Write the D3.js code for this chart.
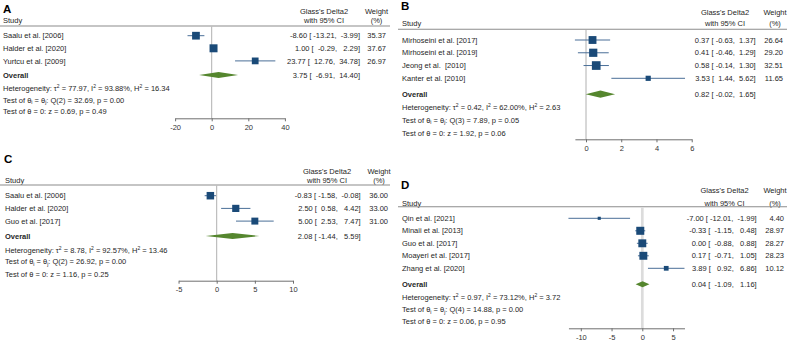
<!DOCTYPE html>
<html><head><meta charset="utf-8">
<script src="https://cdn.jsdelivr.net/npm/d3@7"></script>
<style>
html,body{margin:0;padding:0;background:#fff;}
svg{display:block;}
</style>
</head><body>
<svg id="chart" width="793" height="343"></svg>
<script>
// ---------------- DATA ----------------
const studiesA = ["Saalu et al. [2006]", "Halder et al. [2020]", "Yurtcu et al. [2009]"];
const estA  = [-8.60, 1.00, 23.77];
const lowA  = [-13.21, -0.29, 12.76];
const highA = [-3.99, 2.29, 34.78];
const weightA = [35.37, 37.67, 26.97];
const overallA = [3.75, -6.91, 14.40];          // estimate, low, high
const statsA = {tau2:"77.97", i2:"93.88", h2:"16.34", df:2, q:"32.69", pq:"0.00", z:"0.69", pz:"0.49"};
const ticksA = [-20, 0, 20, 40];

const studiesB = ["Mirhoseini et al. [2017]", "Mirhoseini et al. [2019]", "Jeong et al.  [2010]", "Kanter et al. [2010]"];
const estB  = [0.37, 0.41, 0.58, 3.53];
const lowB  = [-0.63, -0.46, -0.14, 1.44];
const highB = [1.37, 1.29, 1.30, 5.62];
const weightB = [26.64, 29.20, 32.51, 11.65];
const overallB = [0.82, -0.02, 1.65];
const statsB = {tau2:"0.42", i2:"62.00", h2:"2.63", df:3, q:"7.89", pq:"0.05", z:"1.92", pz:"0.06"};
const ticksB = [0, 2, 4, 6];

const studiesC = ["Saalu et al. [2006]", "Halder et al. [2020]", "Guo et al. [2017]"];
const estC  = [-0.83, 2.50, 5.00];
const lowC  = [-1.58, 0.58, 2.53];
const highC = [-0.08, 4.42, 7.47];
const weightC = [36.00, 33.00, 31.00];
const overallC = [2.08, -1.44, 5.59];
const statsC = {tau2:"8.78", i2:"92.57", h2:"13.46", df:2, q:"26.92", pq:"0.00", z:"1.16", pz:"0.25"};
const ticksC = [-5, 0, 5, 10];

const studiesD = ["Qin et al. [2021]", "Minaii et al. [2013]", "Guo et al. [2017]", "Moayeri et al. [2017]", "Zhang et al. [2020]"];
const estD  = [-7.00, -0.33, 0.00, 0.17, 3.89];
const lowD  = [-12.01, -1.15, -0.88, -0.71, 0.92];
const highD = [-1.99, 0.48, 0.88, 1.05, 6.86];
const weightD = [4.40, 28.97, 28.27, 28.23, 10.12];
const overallD = [0.04, -1.09, 1.16];
const statsD = {tau2:"0.97", i2:"73.12", h2:"3.72", df:4, q:"14.88", pq:"0.00", z:"0.06", pz:"0.95"};
const ticksD = [-10, -5, 0, 5];

const panelLabels = ["A", "B", "C", "D"];
const headerCI = ["Glass's Delta2", "with 95% CI"];
const headerW = ["Weight", "(%)"];

// ---------------- LAYOUT ----------------
const layout = [
  {lx:3, ly:9, tx:3, h1:11, h2:20.7, rule:26, rx0:0, rx1:390, r0:35.7, rs:12.6, ov:75, het:88.3, t1:100, t2:111.7,
   ax:118.3, zero:211.7, ppu:1.83, ciR:360, wR:386, hCI:324, hW:376.5, k:1.3, dh:3.1, refW:1, refC:"#b0b0b0"},
  {lx:401, ly:5.5, tx:402, h1:12.7, h2:23.3, rule:29.3, rx0:398, rx1:787, r0:40, rs:12.77, ov:94.2, het:107.7, t1:120, t2:133.3,
   ax:139.3, zero:586, ppu:17.62, ciR:755.7, wR:783, hCI:725, hW:775, k:1.52, dh:3.6, refW:1, refC:"#b0b0b0"},
  {lx:4, ly:159, tx:5, h1:171, h2:180, rule:185, rx0:0, rx1:390, r0:195.7, rs:12.7, ov:236, het:250, t1:261.7, t2:274,
   ax:280.7, zero:216.7, ppu:7.63, ciR:360.7, wR:388, hCI:327, hW:379, k:1.25, dh:3.1, refW:1, refC:"#b0b0b0"},
  {lx:401, ly:185, tx:402, h1:190.7, h2:203.3, rule:206.7, rx0:398, rx1:787, r0:218.3, rs:12.5, ov:284.2, het:297.3, t1:309.3, t2:321.7,
   ax:328.3, zero:642.3, ppu:6.15, ciR:756.7, wR:784, hCI:724.5, hW:775, k:1.49, dh:3.0, refW:2.7, refC:"#dcdcdc"}
];

const panelsData = [
  {studies:studiesA, est:estA, low:lowA, high:highA, w:weightA, ov:overallA, st:statsA, ticks:ticksA},
  {studies:studiesB, est:estB, low:lowB, high:highB, w:weightB, ov:overallB, st:statsB, ticks:ticksB},
  {studies:studiesC, est:estC, low:lowC, high:highC, w:weightC, ov:overallC, st:statsC, ticks:ticksC},
  {studies:studiesD, est:estD, low:lowD, high:highD, w:weightD, ov:overallD, st:statsD, ticks:ticksD}
];

const FONT = "'Liberation Sans', Arial, Helvetica, sans-serif";
const FS = 7.5;
const TXT = "#262626";
const SQ = "#1a4a78";
const CI = "#4a6f98";
const DIA = "#55862e";

const svg = d3.select("#chart").style("font-family", FONT);
svg.append("rect").attr("width", 793).attr("height", 343).attr("fill", "#fff");

const NB = "\u00A0";
function pad(s, n) { return s.padStart(n, " "); }
function f2(v) { return v.toFixed(2); }

function txt(g, x, y, s, anchor, opts = {}) {
  return g.append("text").attr("x", x).attr("y", y).attr("dy", "0.35em")
    .attr("text-anchor", anchor || "start")
    .attr("font-size", opts.size || FS)
    .attr("font-weight", opts.bold ? "bold" : "normal")
    .attr("fill", opts.fill || TXT)
    .text(s.replace(/ /g, NB));
}

function rich(g, x, y, parts) {
  const t = g.append("text").attr("x", x).attr("y", y).attr("font-size", FS).attr("fill", TXT);
  let shift = 0;
  const base = FS * 0.35;
  parts.forEach((p, i) => {
    const target = p.sup ? -3 : (p.sub ? 1.6 : 0);
    const ts = t.append("tspan").text(p.t.replace(/ /g, NB));
    ts.attr("dy", (i === 0 ? base : 0) + target - shift);
    shift = target;
    if (p.sup || p.sub) ts.attr("font-size", 5);
  });
}

panelsData.forEach((d, pi) => {
  const L = layout[pi];
  const g = svg.append("g");
  const allVals = d.low.concat(d.high, d.ticks, d.ov);
  const dmin = d3.min(allVals), dmax = d3.max(allVals);
  const x = d3.scaleLinear().domain([dmin, dmax])
    .range([L.zero + dmin * L.ppu, L.zero + dmax * L.ppu]);
  const y = d3.scaleLinear().domain([0, 1]).range([L.r0, L.r0 + L.rs]);
  const side = d3.scaleSqrt().domain([0, 100]).range([0, L.k * 10]);

  // panel letter
  txt(g, L.lx, L.ly, panelLabels[pi], "start", {size: 11.5, bold: true, fill: "#000"});
  // headers
  txt(g, L.hCI, L.h1, headerCI[0], "middle");
  txt(g, L.hCI, L.h2, headerCI[1], "middle");
  txt(g, L.hW, L.h1, headerW[0], "middle");
  txt(g, L.hW, L.h2, headerW[1], "middle");
  txt(g, L.tx, L.h2, "Study", "start");
  g.append("line").attr("x1", L.rx0).attr("x2", L.rx1).attr("y1", L.rule).attr("y2", L.rule)
    .attr("stroke", "#8c8c8c").attr("stroke-width", 1.1);

  // reference line at 0
  g.append("line").attr("x1", x(0)).attr("x2", x(0)).attr("y1", L.rule + 0.6).attr("y2", L.ax)
    .attr("stroke", L.refC).attr("stroke-width", L.refW);

  // column widths (Stata-like fixed formatting)
  const We = d3.max(d.est.concat([d.ov[0]]), v => f2(v).length);
  const Wl = d3.max(d.low.concat([d.ov[1]]), v => f2(v).length);
  const Wu = d3.max(d.high.concat([d.ov[2]]), v => f2(v).length);
  const ciStr = (e, l, h) => pad(f2(e), We) + " [" + pad(f2(l), Wl + 1) + ", " + pad(f2(h), Wu + 1) + "]";

  d.studies.forEach((s, i) => {
    const yy = y(i);
    txt(g, L.tx, yy, s, "start");
    g.append("line").attr("x1", x(d.low[i])).attr("x2", x(d.high[i])).attr("y1", yy).attr("y2", yy)
      .attr("stroke", CI).attr("stroke-width", 1);
    const sz = side(d.w[i]);
    g.append("rect").attr("x", x(d.est[i]) - sz / 2).attr("y", yy - sz / 2)
      .attr("width", sz).attr("height", sz).attr("fill", SQ);
    txt(g, L.ciR, yy, ciStr(d.est[i], d.low[i], d.high[i]), "end");
    txt(g, L.wR, yy, f2(d.w[i]), "end");
  });

  // overall
  txt(g, L.tx, L.ov, "Overall", "start", {bold: true});
  const ov = d.ov;
  g.append("path")
    .attr("d", d3.line()([[x(ov[1]), L.ov], [x(ov[0]), L.ov - L.dh], [x(ov[2]), L.ov], [x(ov[0]), L.ov + L.dh]]) + "Z")
    .attr("fill", DIA);
  txt(g, L.ciR, L.ov, ciStr(ov[0], ov[1], ov[2]), "end");

  // statistics
  const st = d.st;
  rich(g, L.tx, L.het, [
    {t: "Heterogeneity: \u03C4"}, {t: "2", sup: true}, {t: " = " + st.tau2 + ", I"}, {t: "2", sup: true},
    {t: " = " + st.i2 + "%, H"}, {t: "2", sup: true}, {t: " = " + st.h2}
  ]);
  rich(g, L.tx, L.t1, [
    {t: "Test of \u03B8"}, {t: "i", sub: true}, {t: " = \u03B8"}, {t: "j", sub: true},
    {t: ": Q(" + st.df + ") = " + st.q + ", p = " + st.pq}
  ]);
  rich(g, L.tx, L.t2, [{t: "Test of \u03B8 = 0: z = " + st.z + ", p = " + st.pz}]);

  // axis
  const axis = d3.axisBottom(x).tickValues(d.ticks).tickSize(3).tickSizeOuter(0).tickPadding(3.2)
    .tickFormat(d3.format("d"));
  const ag = g.append("g").attr("transform", `translate(0,${L.ax})`).call(axis);
  ag.attr("font-family", FONT).attr("font-size", FS);
  ag.select(".domain").attr("stroke", "#6e6e6e").attr("stroke-width", 1);
  ag.selectAll(".tick line").attr("stroke", "#6e6e6e");
  ag.selectAll(".tick text").attr("fill", "#333").text(v => String(v).replace("-", "-"));
});
</script>
</body></html>
